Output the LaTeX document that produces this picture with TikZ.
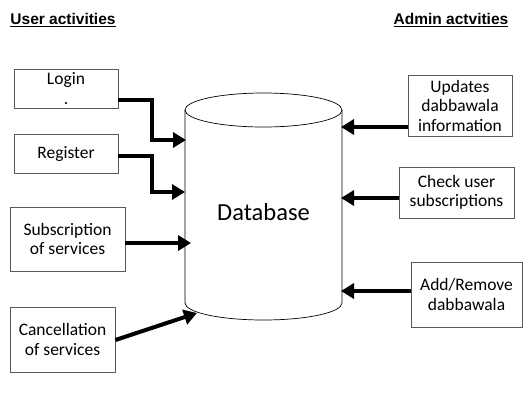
\documentclass[tikz,border=0pt]{standalone}
\usepackage{fontspec}
\usepackage{tikz}
\usetikzlibrary{arrows.meta}
\setmainfont{Carlito}
\newfontfamily\titlefont{Liberation Sans}

\begin{document}
\begin{tikzpicture}[x=1pt, y=-1pt,
                    activity/.style={draw=black!65, line width=0.8pt, align=center, inner sep=0pt,
                                     font=\fontsize{17.5}{19.5}\selectfont},
                    heading/.style={font=\titlefont\bfseries\fontsize{15.5}{18}\selectfont, inner sep=0pt},
                    flow/.style={line width=4pt, -{Triangle[length=13pt,width=15pt]}}]
                    \useasboundingbox (0,0) rectangle (528,397);
                    \node[heading] (userTitle) at (63,20) {\underline{User activities}};
                    \node[heading] (adminTitle) at (451,20) {\underline{Admin actvities}};
                    % database cylinder
                    \draw[line width=0.7pt] (263.5,110) ellipse [x radius=78.5pt, y radius=17pt];
                    \draw[line width=0.7pt] (185,110) -- (185,303)
                        arc[start angle=180, end angle=360, x radius=78.5pt, y radius=17pt] -- (342,110);
                    \node[font=\fontsize{24.5}{28}\selectfont] (db) at (263.5,212) {Database};
                    \coordinate (inLogin) at (186,140);
                    \coordinate (inRegister) at (185,192);
                    \coordinate (inSubscr) at (191,243);
                    \coordinate (inCancel) at (197,313);
                    \coordinate (inUpdates) at (341,127);
                    \coordinate (inCheck) at (341,198);
                    \coordinate (inAdd) at (341,291);
                    % user side
                    \node[activity, minimum width=104pt, minimum height=39pt] (login) at (66,88.5) {Login\\[1pt].};
                    \node[activity, minimum width=104pt, minimum height=39pt] (register) at (66,153.5) {Register};
                    \node[activity, minimum width=115pt, minimum height=64pt] (subscr) at (67.5,239) {Subscription\\of services};
                    \node[activity, minimum width=105pt, minimum height=65pt] (cancel) at (62.5,339.5) {Cancellation\\of services};
                    % admin side
                    \node[activity, minimum width=104pt, minimum height=61pt] (updates) at (460,105.5) {Updates\\dabbawala\\information};
                    \node[activity, minimum width=115pt, minimum height=51pt] (check) at (456.5,192.5) {Check user\\subscriptions};
                    \node[activity, minimum width=111pt, minimum height=65pt] (addrem) at (466.5,294.5) {Add/Remove\\dabbawala};
                    \draw[flow] ([yshift=-11.5pt]login.east) -- ++(34,0) |- (inLogin);
                    \draw[flow] ([yshift=-2.5pt]register.east) -- ++(34,0) |- (inRegister);
                    \draw[flow] ([yshift=-4pt]subscr.east) -- (inSubscr);
                    \draw[flow] ([yshift=-0.5pt]cancel.east) -- (inCancel);
                    \draw[flow] ([yshift=-21.5pt]updates.west) -- (inUpdates);
                    \draw[flow] ([yshift=-5.5pt]check.west) -- (inCheck);
                    \draw[flow] ([yshift=3.5pt]addrem.west) -- (inAdd);
                \end{tikzpicture}
\end{document}
